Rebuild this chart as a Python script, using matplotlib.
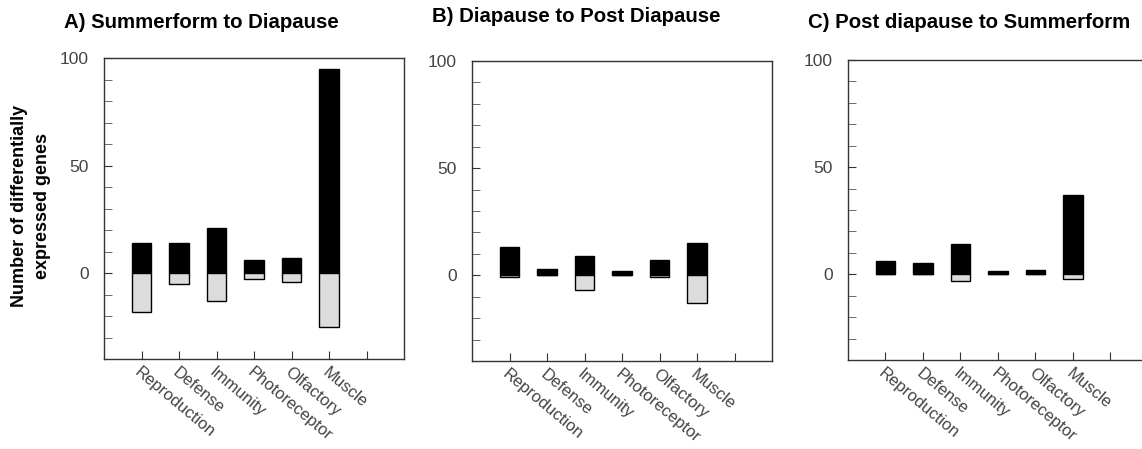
import matplotlib.pyplot as plt
import numpy as np

plt.rcParams['font.family'] = ['Liberation Sans', 'DejaVu Sans']

categories = ['Reproduction', 'Defense', 'Immunity', 'Photoreceptor', 'Olfactory', 'Muscle']
titles = ['A) Summerform to Diapause', 'B) Diapause to Post Diapause', 'C) Post diapause to Summerform']

# up-regulated (black) and down-regulated (grey) gene counts
up_a = [14, 14, 21, 6, 7, 95]
down_a = [-18, -5, -13, -3, -4, -25]
up_b = [13, 3, 9, 2, 7, 15]
down_b = [-1, 0, -7, 0, -1, -13]
up_c = [6, 5.5, 14, 1.5, 2, 37]
down_c = [0, 0, -3, 0, 0, -2]

panels = [(up_a, down_a), (up_b, down_b), (up_c, down_c)]

fig = plt.figure(figsize=(11.42, 4.49), dpi=100)

# axes boxes (pixels): left, top, bottom, title y
boxes = [(104, 58, 359, 22), (472, 61, 361, 17), (848, 60, 360, 22)]
W, H = 1142, 449

for (up, down), title, (l, t, b, ty) in zip(panels, titles, boxes):
    ax = fig.add_axes([l / W, (H - b) / H, 300 / W, (b - t) / H])
    x = np.arange(1, len(categories) + 1)
    ax.bar(x, up, width=0.52, color='black', edgecolor='black', linewidth=1)
    ax.bar(x, down, width=0.52, color='#dcdcdc', edgecolor='black', linewidth=1)
    ax.set_xlim(0, 8)
    ax.set_ylim(-40, 100)
    ax.set_yticks([0, 50, 100])
    ax.set_yticks(np.arange(-30, 100, 10), minor=True)
    ax.set_xticks(np.arange(1, 8))
    ax.set_xticklabels(categories + [''])
    ax.tick_params(axis='both', direction='in', length=6, color='#333333',
                   labelcolor='#444444', labelsize=12.5)
    ax.tick_params(axis='y', which='minor', direction='in', length=6, color='#555555')
    ax.tick_params(axis='y', pad=11)
    ax.tick_params(axis='x', labelsize=12, pad=4)
    for lab in ax.get_xticklabels():
        lab.set_rotation(-40)
        lab.set_rotation_mode('anchor')
        lab.set_ha('left')
        lab.set_va('top')
    for s in ax.spines.values():
        s.set_color('#333333')
        s.set_linewidth(1)
    fig.text((l - 40) / W, (H - ty) / H, title, fontsize=14.7, fontweight='bold',
             ha='left', va='center')

fig.text(31 / W, (H - 206) / H, 'Number of differentially\nexpressed genes',
         rotation=90, ha='center', va='center', fontsize=13, fontweight='bold',
         linespacing=1.4)

fig.savefig('out.png', dpi=100)
